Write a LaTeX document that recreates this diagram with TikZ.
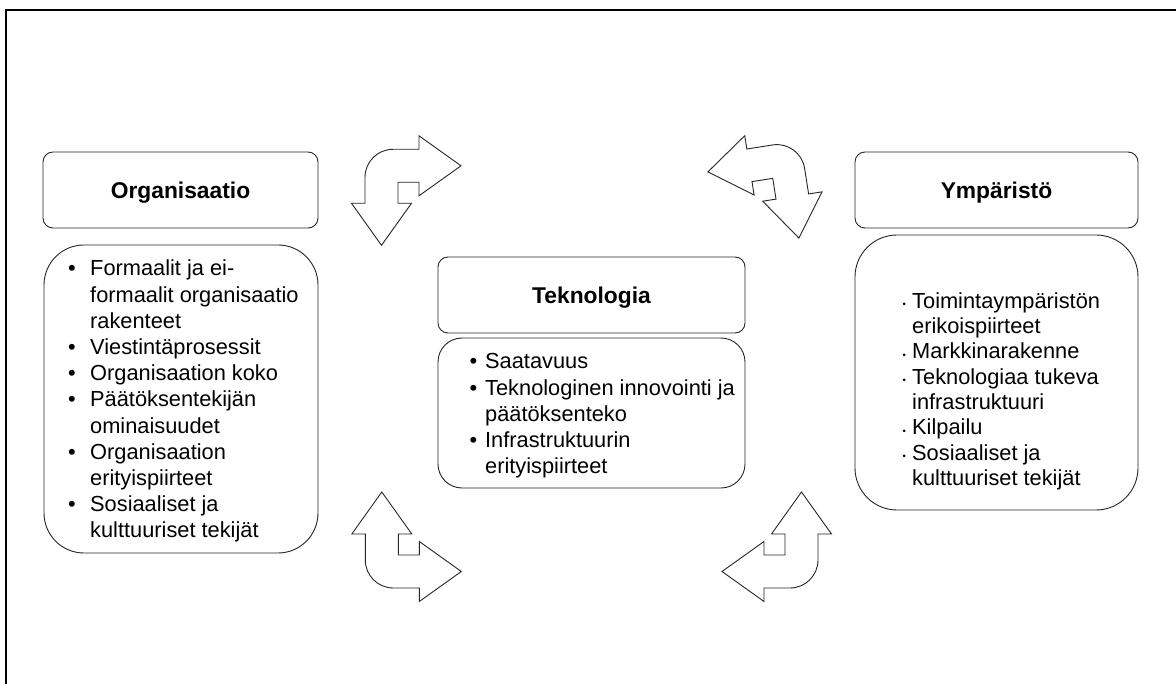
\documentclass[tikz,border=0pt]{standalone}
\usepackage{fontspec}
\setmainfont{Liberation Sans}
\newcommand\listfont{\fontsize{21.8}{26.2}\selectfont}
\newcommand\rlistfont{\fontsize{21.8}{25.3}\selectfont}
\newcommand\smalldot{\raisebox{0.4pt}{\fontsize{9.5}{9.5}\selectfont\textbullet}}
\begin{document}
\begin{tikzpicture}[x=1pt,y=1pt,
  outl/.style={draw=black!85, line width=0.9pt},
  titlebox/.style={outl, rounded corners=10pt, minimum height=76pt, inner sep=0pt,
     font=\fontsize{22.8}{27}\selectfont\bfseries, text height=17pt, text depth=0pt},
  listbox/.style={outl, inner sep=0pt},
  listtext/.style={anchor=base west, inner sep=0pt, align=left},
  bent/.pic={\draw[outl, line join=miter] (0,54) -- (-13.5,54) -- (16.5,96) -- (46.5,54) -- (33,54) -- (33,33) -- (54,33) -- (54,46.5) -- (96,16.5) -- (54,-13.5) -- (54,0) -- (28,0) .. controls (12.5,0) and (0,12.5) .. (0,28) -- cycle;}
]
\useasboundingbox (0,0) rectangle (1176,-684);
\fill[white] (0,0) rectangle (1176,-684);
% frame
\draw[black, line width=1.4pt] (6,-700) -- (6,-10) -- (1190,-10);

% title boxes
\node[titlebox, minimum width=275pt] (orgH) at (180.5,-190) {Organisaatio};
\node[titlebox, minimum width=307pt] (tekH) at (591.5,-295) {Teknologia};
\node[titlebox, minimum width=283pt] (ympH) at (996.5,-190) {Ympäristö};

% list boxes
\node[listbox, rounded corners=40pt, minimum width=274pt, minimum height=308pt] (orgL) at (181,-399) {};
\node[listbox, rounded corners=24pt, minimum width=307pt, minimum height=150pt] (tekL) at (591.5,-413) {};
\node[listbox, rounded corners=42pt, minimum width=283pt, minimum height=275pt] (ympL) at (996.5,-372.5) {};

% list texts
\node[listtext] (orgT) at (68,-276) {\listfont\begin{tabular}[t]{@{}l@{}l@{}}
\makebox[22pt][l]{•} & Formaalit ja ei-\\
 & formaalit organisaatio\\
 & rakenteet\\
\makebox[22pt][l]{•} & Viestintäprosessit\\
\makebox[22pt][l]{•} & Organisaation koko\\
\makebox[22pt][l]{•} & Päätöksentekijän\\
 & ominaisuudet\\
\makebox[22pt][l]{•} & Organisaation\\
 & erityispiirteet\\
\makebox[22pt][l]{•} & Sosiaaliset ja\\
 & kulttuuriset tekijät
\end{tabular}};

\node[listtext] (tekT) at (469.5,-369) {\listfont\begin{tabular}[t]{@{}l@{}l@{}}
\makebox[15.5pt][l]{•} & Saatavuus\\
\makebox[15.5pt][l]{•} & Teknologinen innovointi ja\\
 & päätöksenteko\\
\makebox[15.5pt][l]{•} & Infrastruktuurin\\
 & erityispiirteet
\end{tabular}};

\node[listtext] (ympT) at (902.4,-308.3) {\rlistfont\begin{tabular}[t]{@{}l@{}l@{}}
\makebox[9.6pt][l]{\smalldot} & Toimintaympäristön\\
 & erikoispiirteet\\
\makebox[9.6pt][l]{\smalldot} & Markkinarakenne\\
\makebox[9.6pt][l]{\smalldot} & Teknologiaa tukeva\\
 & infrastruktuuri\\
\makebox[9.6pt][l]{\smalldot} & Kilpailu\\
\makebox[9.6pt][l]{\smalldot} & Sosiaaliset ja\\
 & kulttuuriset tekijät
\end{tabular}};

% bent double arrows
\pic[shift={(365,-149.3)}, cm={1,0,0,-1,(0,0)}] (arrA) {bent};
\pic[shift={(800.2,-140.6)}, cm={-0.988,-0.156,0.156,-0.988,(0,0)}] (arrB) {bent};
\pic[shift={(365.3,-588)}, cm={1,0,0,1,(0,0)}] (arrC) {bent};
\pic[shift={(818,-588)}, cm={-1,0,0,1,(0,0)}] (arrD) {bent};
\end{tikzpicture}
\end{document}
